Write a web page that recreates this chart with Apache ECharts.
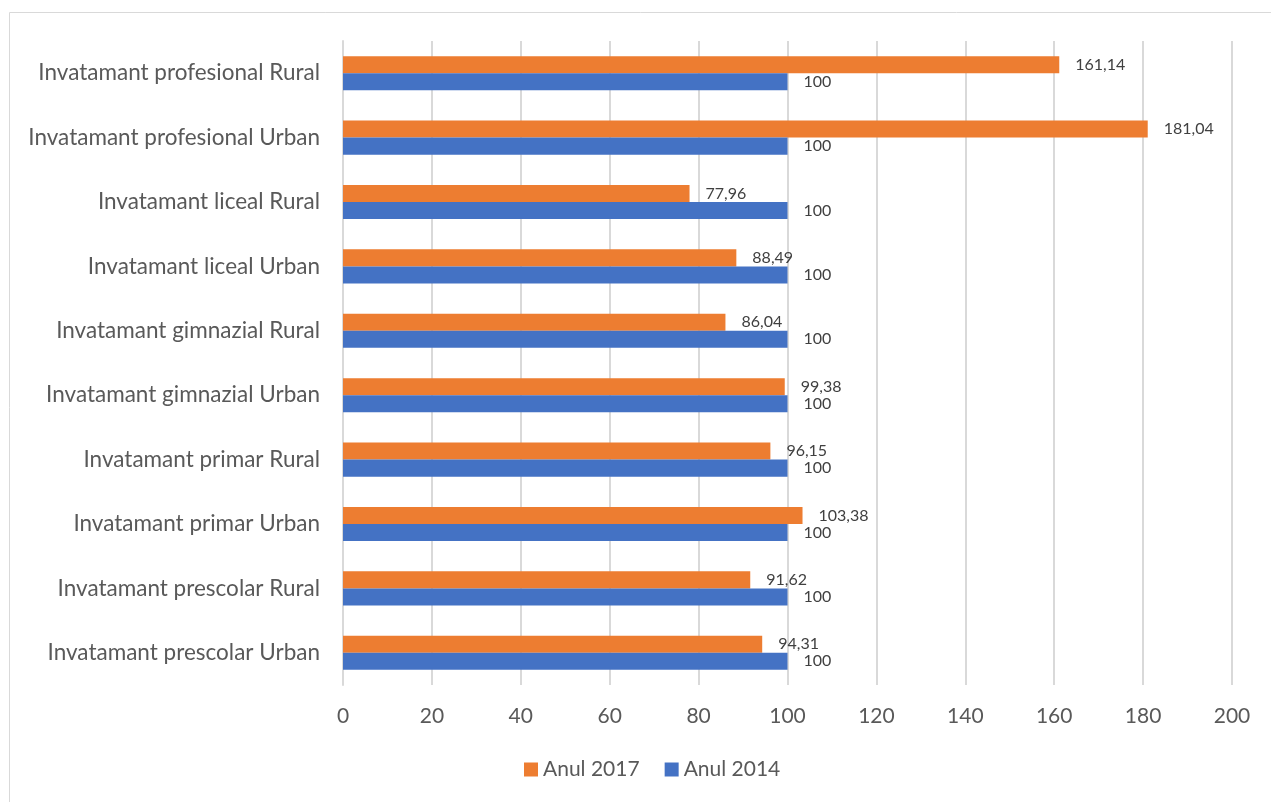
<!DOCTYPE html>
<html>
<head>
<meta charset="utf-8">
<script src="https://cdn.jsdelivr.net/npm/echarts@6/dist/echarts.min.js"></script>
<style>
  html, body { margin: 0; padding: 0; background: #fff; }
  #barchart { width: 1271px; height: 802px; }
</style>
</head>
<body>
<div id="barchart"></div>
<script>
// categories, bottom to top as the y axis draws them
const categories = [
    'Invatamant prescolar Urban',
    'Invatamant prescolar Rural',
    'Invatamant primar Urban',
    'Invatamant primar Rural',
    'Invatamant gimnazial Urban',
    'Invatamant gimnazial Rural',
    'Invatamant liceal Urban',
    'Invatamant liceal Rural',
    'Invatamant profesional Urban',
    'Invatamant profesional Rural'
];
const anul2017 = [94.31, 91.62, 103.38, 96.15, 99.38, 86.04, 88.49, 77.96, 181.04, 161.14];
const anul2014 = [100, 100, 100, 100, 100, 100, 100, 100, 100, 100];
const xTicks = [0, 200, 20]; // min, max, step

const fontFam = 'Lato, "Liberation Sans", sans-serif';

let chartDom = document.getElementById('barchart');
let myChart = echarts.init(chartDom);

function commaFmt(p) {
    return String(p.value).replace('.', ',');
}

const labelCfg = {
    show: true,
    position: 'right',
    distance: 16,
    color: '#404040',
    fontSize: 16,
    fontFamily: fontFam,
    formatter: commaFmt
};

let option = {
    animation: false,
    graphic: [{
        type: 'rect',
        shape: { x: 9.5, y: 12.5, width: 1270, height: 790 },
        style: { fill: 'none', stroke: '#d9d9d9', lineWidth: 1 },
        silent: true
    }],
    legend: {
        data: ['Anul 2017', 'Anul 2014'],
        bottom: 17,
        left: 519,
        icon: 'rect',
        itemWidth: 14,
        itemHeight: 14,
        itemGap: 25,
        textStyle: { color: '#595959', fontSize: 21, fontFamily: fontFam }
    },
    grid: {
        left: 343,
        right: 39,
        top: 41,
        bottom: 117,
        containLabel: false
    },
    xAxis: {
        type: 'value',
        min: xTicks[0],
        max: xTicks[1],
        interval: xTicks[2],
        axisLine: { show: false },
        axisTick: { show: false },
        splitLine: { lineStyle: { color: '#d9d9d9', width: 2 } },
        axisLabel: { color: '#595959', fontSize: 21, fontFamily: fontFam, margin: 21 }
    },
    yAxis: {
        type: 'category',
        data: categories,
        axisLine: { show: true, lineStyle: { color: '#d9d9d9', width: 2 } },
        axisTick: { show: false },
        axisLabel: { color: '#595959', fontSize: 22.5, fontFamily: fontFam, margin: 23 }
    },
    series: [
        {
            name: 'Anul 2017',
            type: 'bar',
            data: anul2017,
            barGap: '0%',
            barCategoryGap: '47%',
            itemStyle: { color: '#ed7d31' },
            label: labelCfg
        },
        {
            name: 'Anul 2014',
            type: 'bar',
            data: anul2014,
            barGap: '0%',
            barCategoryGap: '47%',
            itemStyle: { color: '#4472c4' },
            label: labelCfg
        }
    ]
};

option && myChart.setOption(option);
</script>
</body>
</html>
